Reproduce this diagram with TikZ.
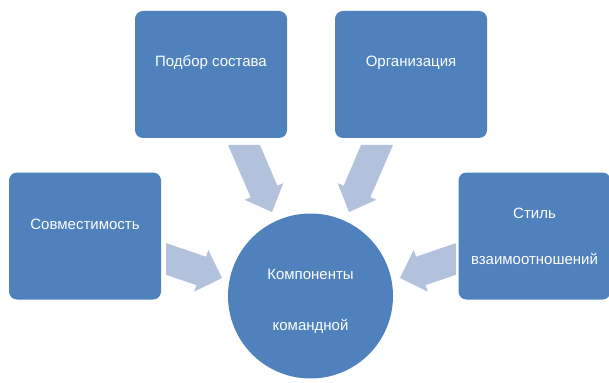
\documentclass[tikz,border=0pt]{standalone}
\usepackage{fontspec}
\setmainfont{Liberation Sans}
\usetikzlibrary{positioning}
\definecolor{boxblue}{RGB}{79,129,189}
\definecolor{arrowblue}{RGB}{179,194,220}
\tikzset{box/.style = {fill = boxblue, rounded corners = 8pt, minimum width = 152pt, minimum height = 127pt, inner sep = 0}}
\tikzset{hub/.style = {fill = boxblue, circle, minimum size = 165pt, inner sep = 0}}
\tikzset{txt/.style = {text = white, align = center, font = \fontsize{15}{46}\selectfont}}
\tikzset{blockarrow/.style = {fill = arrowblue}}

\begin{document}
\begin{tikzpicture}[x = 1pt, y = -1pt]
      \useasboundingbox (0, 0) rectangle (609, 382);
      \node [box] (podbor) at (211, 74.5) {};
      \node [box] (org) at (411, 74.5) {};
      \node [box] (sovm) at (85, 236) {};
      \node [box] (stil) at (534.5, 236) {};
      \node [txt] (podbortxt) at ([yshift = 12]podbor.center) {Подбор состава};
      \node [txt] (orgtxt) at ([yshift = 12]org.center) {Организация};
      \node [txt] (sovmtxt) at ([yshift = 12]sovm.center) {Совместимость};
      \node [txt] (stiltxt) at (stil.center) {Стиль\\взаимоотношений};
      \fill [blockarrow] (228, 145) -- (260, 145) -- (277.3, 185.7) -- (283.3, 183.2) -- (272, 212) -- (244.7, 199.8) -- (250.7, 197.3) -- cycle;
      \fill [blockarrow] (393, 145) -- (361, 145) -- (343.7, 185.7) -- (337.7, 183.2) -- (349, 212) -- (376.3, 199.8) -- (370.3, 197.3) -- cycle;
      \fill [blockarrow] (166, 243.1) -- (206, 256.7) -- (208.3, 250) -- (222, 278) -- (194.1, 291.7) -- (196.4, 285.1) -- (166, 274.8) -- cycle;
      \fill [blockarrow] (456, 243.1) -- (416, 256.7) -- (413.7, 250) -- (400, 278) -- (427.9, 291.7) -- (425.6, 285.1) -- (456, 274.8) -- cycle;
      \node [hub] (komp) at (310.5, 296) {};
      \node [txt, font = \fontsize{15}{51}\selectfont] (komptxt) at ([yshift = -5]komp.center) {Компоненты\\командной};
    \end{tikzpicture}
\end{document}
